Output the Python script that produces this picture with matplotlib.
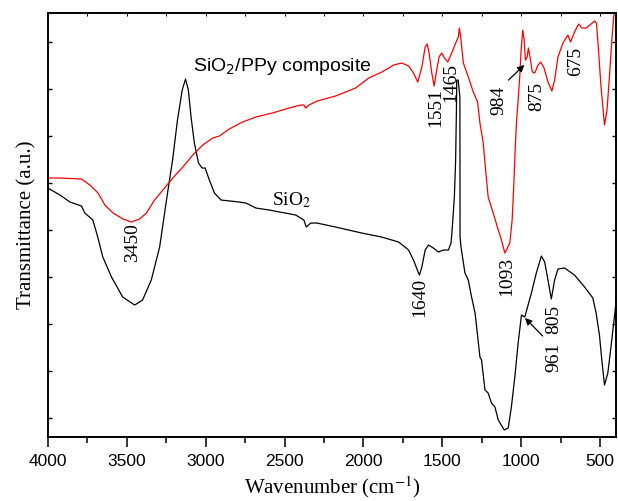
import numpy as np
import matplotlib
matplotlib.use('Agg')
import matplotlib.pyplot as plt

# 数据：波数 (cm-1) 与透过率 (任意单位)
sio2_wn = [4000, 3922, 3859, 3786, 3765, 3714, 3683, 3651, 3596, 3525,
           3449, 3399, 3344, 3291, 3241, 3209, 3178, 3148, 3127, 3109,
           3092, 3071, 3045, 3022, 3003, 2976, 2944, 2902, 2787, 2745,
           2681, 2597, 2429, 2377, 2362, 2334, 2295, 2177, 2011, 1885,
           1777, 1714, 1683, 1651, 1645, 1630, 1609, 1588, 1557, 1525,
           1493, 1462, 1445, 1437, 1424, 1416, 1411, 1409, 1400, 1389,
           1388, 1382, 1357, 1336, 1315, 1293, 1283, 1262, 1252, 1230,
           1210, 1189, 1167, 1146, 1108, 1083, 1063, 1041, 1020, 999,
           978, 936, 905, 873, 852, 831, 810, 789, 768, 726,
           663, 599, 547, 526, 505, 490, 473, 452, 432, 409,
           400]
sio2_t = [249, 242, 235, 231, 224, 217, 200, 180, 160, 140,
          132, 137, 157, 190, 244, 277, 317, 347, 358, 347,
          320, 294, 274, 269, 269, 257, 244, 237, 235, 234,
          229, 227, 222, 217, 210, 214, 214, 210, 204, 200,
          195, 187, 177, 164, 162, 170, 187, 192, 189, 185,
          187, 187, 194, 210, 240, 277, 327, 357, 357, 340,
          200, 190, 164, 157, 140, 124, 110, 80, 77, 47,
          44, 34, 30, 17, 7, 9, 30, 60, 94, 122,
          120, 144, 164, 181, 175, 157, 138, 157, 168, 169,
          162, 150, 139, 124, 102, 77, 52, 64, 90, 122,
          135]

comp_wn = [4000, 3922, 3786, 3733, 3681, 3638, 3586, 3523, 3470, 3418,
           3375, 3323, 3260, 3208, 3144, 3081, 3018, 2955, 2913, 2850,
           2766, 2681, 2577, 2471, 2397, 2377, 2366, 2345, 2293, 2177,
           2050, 1967, 1883, 1809, 1757, 1714, 1683, 1656, 1630, 1609,
           1596, 1584, 1567, 1552, 1536, 1521, 1504, 1487, 1466, 1441,
           1416, 1399, 1392, 1384, 1367, 1340, 1304, 1277, 1262, 1241,
           1230, 1210, 1178, 1146, 1126, 1104, 1073, 1058, 1049, 1039,
           1030, 1020, 1010, 1001, 991, 982, 974, 963, 955, 945,
           930, 915, 894, 877, 856, 831, 806, 789, 768, 736,
           705, 688, 663, 637, 616, 589, 558, 536, 524, 511,
           495, 473, 457, 442, 425, 415, 405]
comp_t = [259, 259, 258, 252, 244, 232, 224, 218, 215, 218,
          224, 237, 249, 259, 270, 282, 292, 299, 301, 308,
          315, 320, 324, 329, 332, 332, 329, 332, 336, 341,
          349, 359, 365, 372, 374, 371, 364, 355, 370, 390,
          393, 384, 364, 351, 367, 380, 384, 379, 375, 384,
          394, 400, 409, 400, 374, 362, 345, 335, 314, 294,
          274, 240, 224, 207, 197, 184, 194, 217, 247, 287,
          317, 337, 360, 387, 407, 397, 377, 380, 389, 380,
          365, 364, 372, 375, 369, 355, 346, 357, 380, 394,
          402, 395, 405, 413, 409, 409, 413, 416, 414, 387,
          350, 312, 327, 360, 400, 420, 430]

# 峰位标注 (文字, x, y)
peak_labels = [('3450', 3465, 194), ('1640', 1645, 140), ('1093', 1090, 161),
               ('961', 796, 80), ('805', 796, 118), ('1551', 1541, 330),
               ('1465', 1446, 355), ('984', 1143, 337), ('875', 900, 341),
               ('675', 657, 376)]

serif = 'Liberation Serif'
sans = 'Liberation Sans'

fig = plt.figure(figsize=(6.18, 5.01), dpi=100)
ax = fig.add_axes([0.0772, 0.1277, 0.9196, 0.8463])

ax.plot(sio2_wn, sio2_t, color='black', lw=0.9)
ax.plot(comp_wn, comp_t, color='red', lw=0.9)

ax.set_xlim(4000, 400)
ax.set_ylim(0, 424)

# 坐标轴刻度
ax.set_xticks([4000, 3500, 3000, 2500, 2000, 1500, 1000, 500])
ax.set_xticks(np.arange(3750, 400, -500), minor=True)
ax.tick_params(axis='x', which='major', direction='out', length=7, width=1.1,
               labelsize=12.5, pad=5)
ax.tick_params(axis='x', which='minor', direction='out', length=4, width=1.1)
for lab in ax.get_xticklabels():
    lab.set_fontfamily(sans)
ax.set_yticks(np.arange(19, 424, 47))
ax.tick_params(axis='y', direction='in', left=True, right=True, length=3,
               width=1.0, labelleft=False)

ax_top = ax.twiny()
ax_top.set_xlim(ax.get_xlim())
ax_top.set_xticks(np.arange(4000, 399, -250))
ax_top.tick_params(axis='x', direction='in', length=2.5, width=0.8, labeltop=False)

for a in (ax, ax_top):
    for s in a.spines.values():
        s.set_linewidth(1.2)

ax.set_xlabel('Wavenumber (cm$^{-1}$)', fontsize=15, family=serif,
              math_fontfamily='stix', labelpad=4)
ax.set_ylabel('Transmittance (a.u.)', fontsize=15, family=serif, labelpad=8)

# 曲线名称
ax.text(3077, 371, 'SiO$_2$/PPy composite', fontsize=14, family=sans,
        math_fontfamily='dejavusans', va='center', ha='left')
ax.text(2580, 237, 'SiO$_2$', fontsize=14, family=serif,
        math_fontfamily='stix', va='center', ha='left')

for txt, x, y in peak_labels:
    ax.text(x, y, txt, fontsize=14, family=serif, rotation=90,
            ha='center', va='center')

# 箭头
ax.annotate('', xy=(968, 374), xytext=(1094, 355),
            arrowprops=dict(arrowstyle='-|>', color='black', lw=0.9,
                            mutation_scale=10))
ax.annotate('', xy=(989, 121), xytext=(852, 99),
            arrowprops=dict(arrowstyle='-|>', color='black', lw=0.9,
                            mutation_scale=10))

fig.savefig('out.png', dpi=100)
